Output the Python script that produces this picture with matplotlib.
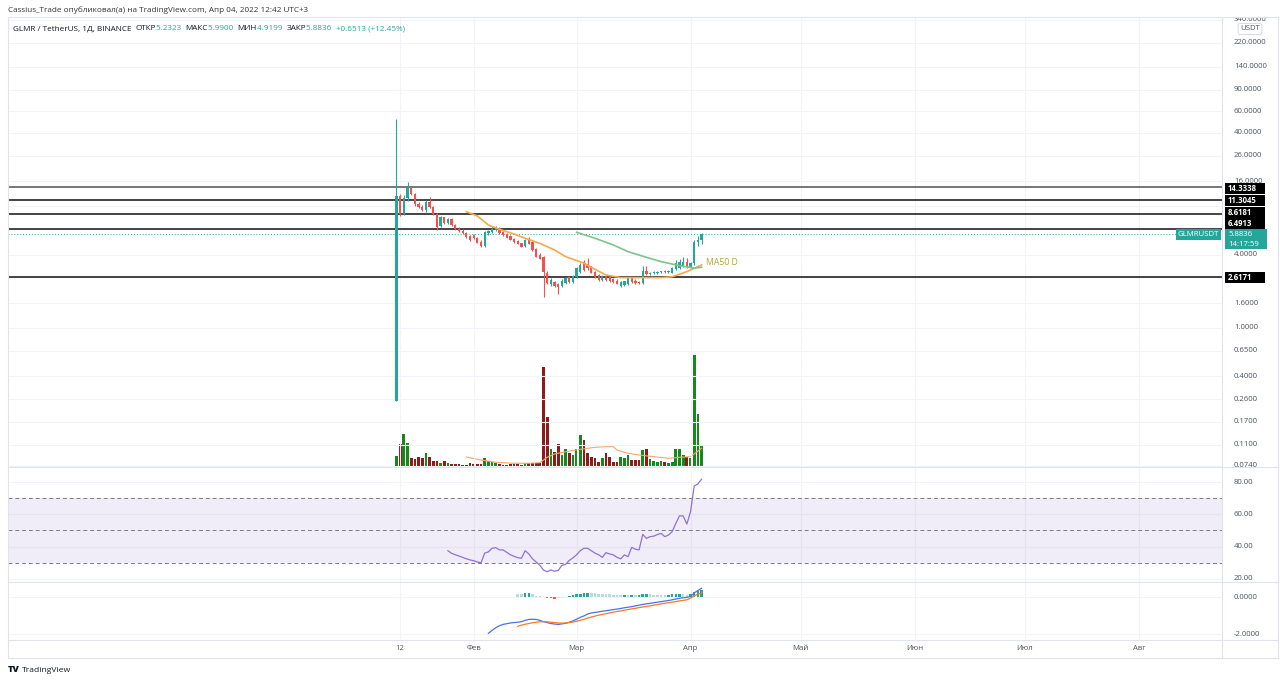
import matplotlib
matplotlib.use('Agg')
import matplotlib.pyplot as plt
import matplotlib.dates as mdates
import matplotlib.transforms as mtrans
from matplotlib.lines import Line2D
from matplotlib.patches import Rectangle
from matplotlib.ticker import NullLocator
import pandas as pd

plt.rcParams['font.family'] = ['Open Sans', 'DejaVu Sans']

# ---------------- data ----------------
start_date = '2022-01-11'
opens = [0.25, 12.0, 8.6, 11.6, 14.0, 12.6, 10.4, 9.9, 9.3, 10.9,
         9.8, 8.7, 6.9, 8.1, 7.3, 7.9, 7.0, 6.5, 6.3, 6.0,
         5.7, 5.8, 5.5, 5.1, 4.7, 6.0, 6.1, 6.4, 6.6, 6.1,
         5.9, 5.65, 5.35, 5.15, 4.95, 4.7, 5.4, 5.1, 4.45, 4.0,
         3.85, 2.85, 2.3, 2.4, 2.3, 2.2, 2.35, 2.6, 2.4, 2.6,
         2.9, 3.45, 3.35, 3.2, 2.9, 2.72, 2.48, 2.65, 2.6, 2.5,
         2.45, 2.2, 2.25, 2.3, 2.55, 2.45, 2.4, 2.35, 2.95, 2.75,
         2.82, 2.85, 2.86, 2.92, 2.86, 2.85, 3.05, 3.1, 3.2, 3.45,
         3.15, 3.4, 5.05, 5.2323]
highs = [52.0, 12.6, 12.3, 15.8, 14.3, 12.8, 10.8, 10.2, 11.3, 11.9,
         10.0, 8.8, 8.3, 8.2, 8.0, 8.0, 7.2, 6.7, 6.45, 6.15,
         5.85, 5.9, 5.6, 5.25, 6.2, 6.4, 6.9, 6.9, 6.7, 6.2,
         6.0, 5.8, 5.45, 5.25, 5.0, 5.4, 5.55, 5.2, 4.55, 4.1,
         3.9, 2.95, 2.55, 2.45, 2.35, 2.5, 2.6, 2.65, 2.7, 3.15,
         3.4, 3.6, 3.75, 3.25, 2.95, 2.75, 2.7, 2.7, 2.65, 2.55,
         2.5, 2.45, 2.45, 2.6, 2.6, 2.5, 2.45, 3.2, 3.2, 2.9,
         2.92, 2.95, 2.96, 2.98, 3.0, 3.15, 3.6, 3.7, 3.8, 3.75,
         3.5, 5.3, 5.7, 5.99]
lows = [0.25, 8.3, 8.4, 11.0, 12.4, 10.1, 9.7, 9.1, 8.9, 9.6,
        8.5, 6.4, 6.8, 7.1, 7.2, 6.9, 6.4, 6.1, 5.9, 5.5,
        5.2, 5.4, 4.95, 4.6, 4.6, 5.8, 6.0, 6.2, 5.95, 5.7,
        5.45, 5.25, 5.0, 4.85, 4.6, 4.6, 4.85, 4.3, 3.8, 3.65,
        1.8, 2.3, 2.2, 2.15, 1.9, 2.15, 2.3, 2.35, 2.35, 2.55,
        2.85, 2.95, 3.0, 2.8, 2.55, 2.45, 2.45, 2.45, 2.4, 2.35,
        2.28, 2.15, 2.2, 2.25, 2.35, 2.3, 2.28, 2.3, 2.7, 2.7,
        2.75, 2.78, 2.8, 2.82, 2.8, 2.8, 3.0, 3.05, 3.15, 3.1,
        3.1, 3.3, 4.7, 4.9199]
closes = [12.0, 8.6, 11.6, 14.0, 12.6, 10.4, 9.9, 9.3, 10.9, 9.8,
          8.7, 6.7, 8.1, 7.3, 7.9, 7.0, 6.5, 6.2, 6.0, 5.6,
          5.3, 5.5, 5.0, 4.7, 6.1, 6.25, 6.5, 6.6, 6.05, 5.75,
          5.5, 5.3, 5.05, 4.9, 4.65, 5.3, 4.9, 4.37, 3.85, 3.7,
          2.9, 2.35, 2.48, 2.2, 2.15, 2.45, 2.55, 2.4, 2.65, 3.1,
          3.3, 3.0, 3.1, 2.85, 2.6, 2.48, 2.65, 2.48, 2.45, 2.4,
          2.3, 2.4, 2.42, 2.55, 2.4, 2.35, 2.32, 2.95, 2.75, 2.85,
          2.88, 2.9, 2.92, 2.86, 2.96, 3.1, 3.4, 3.5, 3.45, 3.15,
          3.4, 5.1, 5.23, 5.8836]
volumes = [5.5, 11.5, 16.5, 12.0, 4.7, 4.0, 4.9, 4.4, 6.9, 4.9,
           3.2, 3.2, 2.2, 2.9, 1.9, 1.7, 1.5, 1.4, 1.2, 1.0,
           2.0, 1.5, 1.5, 1.5, 4.7, 3.2, 2.5, 1.9, 1.4, 1.0,
           1.0, 1.7, 1.5, 1.4, 1.2, 2.0, 2.0, 2.0, 2.0, 2.0,
           50.0, 24.9, 9.0, 7.4, 11.4, 6.0, 8.9, 7.2, 6.0, 8.9,
           16.0, 13.5, 6.9, 5.2, 4.4, 2.7, 4.4, 6.9, 4.9, 2.7,
           2.7, 4.9, 4.4, 6.0, 3.5, 3.5, 3.5, 8.5, 9.2, 3.9,
           3.2, 2.7, 3.2, 2.4, 2.0, 2.5, 9.2, 9.2, 6.0, 4.9,
           4.7, 56.0, 26.5, 10.9]

ma20_days = [19, 22, 25, 28, 32, 35, 39, 43, 46, 51, 54, 57, 61, 66, 72, 75, 79, 83]
ma20_vals = [9.0, 8.3, 7.0, 6.45, 5.9, 5.45, 4.95, 4.37, 3.85, 3.4, 3.03, 2.72,
             2.59, 2.59, 2.59, 2.63, 2.9, 3.29]
ma50_days = [49, 54, 59, 63, 68, 72, 77, 81, 83]
ma50_vals = [6.1, 5.45, 4.8, 4.23, 3.8, 3.5, 3.25, 3.1, 3.15]
vma_days = [19, 23, 27, 32, 36, 39, 41, 43, 46, 50, 54, 57, 59, 60, 63, 66, 70, 74, 77, 80, 83]
vma_vals = [5.0, 3.5, 2.35, 1.85, 1.85, 2.15, 4.85, 6.5, 7.65, 8.85, 9.85, 10.15,
            10.15, 8.5, 6.85, 6.0, 5.15, 4.35, 4.85, 5.15, 9.35]

rsi_start = 14
rsi_vals = [37.5, 35.9, 35.0, 34.2, 33.4, 32.5, 31.8, 31.3, 30.5, 30.0,
            36.0, 36.8, 39.0, 39.4, 38.0, 38.0, 36.5, 35.0, 34.0, 33.2,
            32.8, 37.5, 35.5, 32.5, 30.5, 28.5, 25.5, 24.5, 25.6, 24.8,
            25.3, 28.5, 29.0, 31.5, 33.0, 35.0, 37.5, 39.0, 39.0, 37.5,
            36.0, 35.0, 33.4, 36.3, 35.5, 34.9, 33.4, 32.5, 34.9, 33.8,
            39.6, 38.4, 38.0, 47.6, 45.1, 46.2, 46.5, 47.5, 48.2, 46.2,
            47.2, 49.3, 54.4, 59.1, 59.0, 54.0, 61.6, 77.5, 78.8, 81.7]

macd_start = 25
macd_vals = [-1.96, -1.80, -1.66, -1.55, -1.48, -1.44, -1.40, -1.38, -1.36, -1.33,
             -1.26, -1.21, -1.20, -1.21, -1.26, -1.33, -1.38, -1.43, -1.46, -1.48,
             -1.45, -1.42, -1.36, -1.29, -1.20, -1.10, -1.02, -0.92, -0.86, -0.83,
             -0.80, -0.77, -0.74, -0.71, -0.68, -0.65, -0.62, -0.58, -0.55, -0.52,
             -0.48, -0.44, -0.40, -0.37, -0.34, -0.31, -0.28, -0.25, -0.22, -0.19,
             -0.15, -0.11, -0.07, -0.04, -0.02, 0.03, 0.22, 0.35, 0.47]
signal_start = 33
signal_vals = [-1.58, -1.52, -1.47, -1.43, -1.39, -1.36, -1.34, -1.33, -1.34, -1.36,
               -1.38, -1.40, -1.41, -1.40, -1.38, -1.35, -1.31, -1.26, -1.20, -1.14,
               -1.08, -1.03, -0.98, -0.94, -0.90, -0.86, -0.82, -0.78, -0.75, -0.71,
               -0.68, -0.64, -0.61, -0.57, -0.54, -0.51, -0.48, -0.44, -0.41, -0.37,
               -0.34, -0.31, -0.28, -0.25, -0.21, -0.18, -0.15, -0.06, 0.06, 0.15, 0.23]
hist_vals = [0.18, 0.18, 0.20, 0.22, 0.15, 0.08, 0.04, 0.01, -0.03, -0.08,
             -0.10, -0.07, -0.03, 0.02, 0.05, 0.09, 0.14, 0.18, 0.21, 0.22,
             0.21, 0.19, 0.17, 0.16, 0.15, 0.14, 0.13, 0.12, 0.11, 0.12,
             0.11, 0.12, 0.11, 0.13, 0.15, 0.16, 0.15, 0.13, 0.12, 0.11,
             0.10, 0.12, 0.14, 0.15, 0.16, 0.14, 0.12, 0.18, 0.28, 0.32, 0.36]

levels = [14.3338, 11.3045, 8.6181, 6.4913, 2.6171]
last_price = 5.8836
countdown = '14:17:59'
price_ticks = [340, 220, 140, 90, 60, 40, 26, 16, 10, 6.5, 4.0, 2.6, 1.6, 1.0,
               0.65, 0.4, 0.26, 0.17, 0.11, 0.074]
price_labels = [340, 220, 140, 90, 60, 40, 26, 16, 4.0, 1.6, 1.0, 0.65, 0.4,
                0.26, 0.17, 0.11, 0.074]
month_dates = ['2022-01-12', '2022-02-01', '2022-03-01', '2022-04-01',
               '2022-05-01', '2022-06-01', '2022-07-01', '2022-08-01']
month_labels = ['12', 'Фев', 'Мар', 'Апр', 'Май', 'Июн', 'Июл', 'Авг']
rsi_ticks = [80, 60, 40, 20]
macd_ticks = [0.0, -2.0]

header = 'Cassius_Trade опубликовал(а) на TradingView.com, Апр 04, 2022 12:42 UTC+3'

# ---------------- layout ----------------
W, H = 1280, 683
UP, DN = '#26a69a', '#ef5350'
VUP, VDN = '#17881a', '#8a1c1c'
GRID = '#f0f3fa'
BORDER = '#e0e3eb'
TXT = '#4c525e'
FS = 5.6
FSH = 5.85

fig = plt.figure(figsize=(W / 100, H / 100), dpi=100)
fig.patch.set_facecolor('white')


def rect(x0, y0, x1, y1):
    return [x0 / W, 1 - y1 / H, (x1 - x0) / W, (y1 - y0) / H]


dates = pd.date_range(start_date, periods=len(opens), freq='D')
xd = mdates.date2num(dates)
t0 = xd[0]
xlim = (t0 - 105.7, t0 + 224.6)
mticks = mdates.date2num(pd.to_datetime(month_dates))

L, R = 8, 1222
axv = fig.add_axes(rect(L, 17, R, 467))
ax = fig.add_axes(rect(L, 17, R, 467), sharex=axv)
ax_rsi = fig.add_axes(rect(L, 467, R, 582), sharex=axv)
ax_macd = fig.add_axes(rect(L, 582, R, 640), sharex=axv)

for a in (axv, ax, ax_rsi, ax_macd):
    for s in a.spines.values():
        s.set_visible(False)
    a.tick_params(left=False, right=False, bottom=False, top=False,
                  labelleft=False, labelbottom=False)
    a.set_xticks(mticks)
    a.grid(True, color=GRID, lw=0.8)
    a.set_axisbelow(True)
ax.patch.set_visible(False)
axv.grid(False)
axv.set_xlim(*xlim)

# main price pane
ax.set_yscale('log')
ax.set_ylim(0.0722, 357)
ax.set_yticks(price_ticks)
ax.yaxis.set_minor_locator(NullLocator())
ax.tick_params(labelleft=False, left=False)

# volume
vcol = [VUP if c >= o else VDN for o, c in zip(opens, closes)]
axv.bar(xd, volumes, width=0.74, color=vcol, zorder=2)
axv.plot(mdates.date2num(dates[vma_days]), vma_vals, color='#f6a56e', lw=0.8, zorder=3)
axv.set_ylim(0, 225)
axv.set_yticks([])

# candles
ccol = [UP if c >= o else DN for o, c in zip(opens, closes)]
ax.vlines(xd, lows, highs, colors=ccol, lw=0.8, zorder=4)
bottoms = [min(o, c) for o, c in zip(opens, closes)]
heights = [abs(c - o) for o, c in zip(opens, closes)]
ax.bar(xd, heights, bottom=bottoms, width=0.62, color=ccol, zorder=5)

# MAs
ax.plot(mdates.date2num(dates[ma20_days]), ma20_vals, color='#f5a94a', lw=1.2, zorder=6)
ax.plot(mdates.date2num(dates[ma50_days]), ma50_vals, color='#7cc48a', lw=1.2, zorder=6)
ax.annotate('MA50 D', xy=(xd[-1], ma50_vals[-1]), xytext=(4, 5), textcoords='offset pixels',
            color='#b3a229', fontsize=FS + 0.6, ha='left', va='center', zorder=7)

# horizontal levels
for i, lv in enumerate(levels):
    ax.axhline(lv, color='#6b6b6b' if i == 0 else '#111111', lw=1.3 if i == 0 else 1.1, zorder=3)
ax.axhline(last_price, color=UP, lw=0.7, ls=(0, (1, 2)), zorder=3)

# RSI pane
ax_rsi.set_ylim(18.14, 89.28)
ax_rsi.set_yticks(rsi_ticks)
ax_rsi.axhspan(30, 70, color='#7e57c2', alpha=0.1, lw=0)
for lv in (70, 50, 30):
    ax_rsi.axhline(lv, color='#787b86', lw=0.7, ls=(0, (4, 3)))
ax_rsi.plot(xd[rsi_start:], rsi_vals, color='#8e72d0', lw=0.9)

# MACD pane
ax_macd.set_ylim(-2.32, 0.81)
ax_macd.set_yticks(macd_ticks)
hcol = []
prev = None
for h in hist_vals:
    if h >= 0:
        hcol.append('#26a69a' if (prev is not None and h > prev) else '#b2dfdb')
    else:
        hcol.append('#ffcdd2' if (prev is not None and h > prev) else '#ff5252')
    prev = h
ax_macd.bar(xd[signal_start:], hist_vals, width=0.7, color=hcol)
ax_macd.plot(xd[macd_start:], macd_vals, color='#4a6ff0', lw=0.9)
ax_macd.plot(xd[signal_start:], signal_vals, color='#f57c1f', lw=0.9)

# right price scale
axs = fig.add_axes(rect(R, 17, 1278, 467))
axs.set_axis_off()
axs.set_yscale('log')
axs.set_ylim(0.0722, 357)
axs.set_xlim(0, 56)
for p in price_labels:
    axs.text(12, p, '%.4f' % p, color=TXT, fontsize=FS, ha='left', va='center', clip_on=True)
axs.text(0.5, 1 - 12 / 450, 'USDT', transform=axs.transAxes, color=TXT, fontsize=FS,
         ha='center', va='center',
         bbox=dict(boxstyle='round,pad=0.25', fc='white', ec='#d1d4dc', lw=0.6))


def level_px(v):
    # pixel row (from top) of a price on the main pane
    return H - ax.transData.transform((xd[0], v))[1]


def box(x0, x1, yc, h, color, lines, bold=True):
    fig.add_artist(Rectangle((x0 / W, 1 - (yc + h / 2) / H), (x1 - x0) / W, h / H,
                             transform=fig.transFigure, fc=color, ec='none', zorder=20))
    n = len(lines)
    for k, s in enumerate(lines):
        yy = yc + (k - (n - 1) / 2) * 10
        fig.text((x0 + 3) / W, 1 - yy / H, s, color='white', fontsize=FS,
                 fontweight='bold' if bold else 'normal', ha='left', va='center', zorder=21)


box_shift = [1.3, 1.3, -1.8, -5.0, 0.5]
for lv, dy in zip(levels, box_shift):
    box(1225, 1265, level_px(lv) + dy, 11, 'black', ['%.4f' % lv])
yl = level_px(last_price)
box(1225, 1267, yl + 5, 20, UP, ['%.4f' % last_price, countdown], bold=False)
fig.add_artist(Rectangle((1176 / W, 1 - (yl + 5.5) / H), 45 / W, 11 / H,
                         transform=fig.transFigure, fc=UP, ec='none', zorder=20))
fig.text(1198.5 / W, 1 - yl / H, 'GLMRUSDT', color='white', fontsize=FS,
         ha='center', va='center', zorder=21)

axr = fig.add_axes(rect(R, 467, 1278, 582))
axr.set_axis_off()
axr.set_ylim(18.14, 89.28)
axr.set_xlim(0, 56)
for v in rsi_ticks:
    axr.text(12, v, '%.2f' % v, color=TXT, fontsize=FS, ha='left', va='center', clip_on=True)

axm = fig.add_axes(rect(R, 582, 1278, 640))
axm.set_axis_off()
axm.set_ylim(-2.32, 0.81)
axm.set_xlim(0, 56)
for v in macd_ticks:
    axm.text(12, v, '%.4f' % v, color=TXT, fontsize=FS, ha='left', va='center', clip_on=True)

# time labels
tr = mtrans.blended_transform_factory(ax.transData, fig.transFigure)
for d, lab in zip(mticks, month_labels):
    fig.text(d, 1 - 648 / H, lab, transform=tr, color=TXT, fontsize=FS, ha='center', va='center')


# frame lines
def hline(y, x0=8, x1=1278):
    fig.add_artist(Line2D([x0 / W, x1 / W], [1 - y / H, 1 - y / H], color=BORDER, lw=0.8))


def vline(x, y0=17, y1=658):
    fig.add_artist(Line2D([x / W, x / W], [1 - y0 / H, 1 - y1 / H], color=BORDER, lw=0.8))


for y in (17, 467, 582, 640, 658):
    hline(y)
for x in (8, 1222, 1278):
    vline(x)

# header / legend
fig.text(8 / W, 1 - 10 / H, header, color='#333333', fontsize=FSH, ha='left', va='center')
legend_parts = [('GLMR / TetherUS, 1Д, BINANCE  ', '#131722'), ('ОТКР', '#131722'), ('5.2323  ', UP),
                ('МАКС', '#131722'), ('5.9900  ', UP), ('МИН', '#131722'), ('4.9199  ', UP),
                ('ЗАКР', '#131722'), ('5.8836  ', UP), ('+0.6513 (+12.45%)', UP)]
xpos = 13
renderer = fig.canvas.get_renderer()
for txt, col in legend_parts:
    t = fig.text(xpos / W, 1 - 29 / H, txt, color=col, fontsize=FSH, ha='left', va='center')
    bb = t.get_window_extent(renderer=renderer)
    xpos += bb.width

fig.text(8 / W, 1 - 670 / H, 'TV', color='#131722', fontsize=FS + 1, fontweight='heavy',
         ha='left', va='center')
fig.text(22 / W, 1 - 670 / H, 'TradingView', color='#131722', fontsize=FS + 0.5,
         ha='left', va='center')

fig.savefig('out.png', dpi=100, facecolor='white')
